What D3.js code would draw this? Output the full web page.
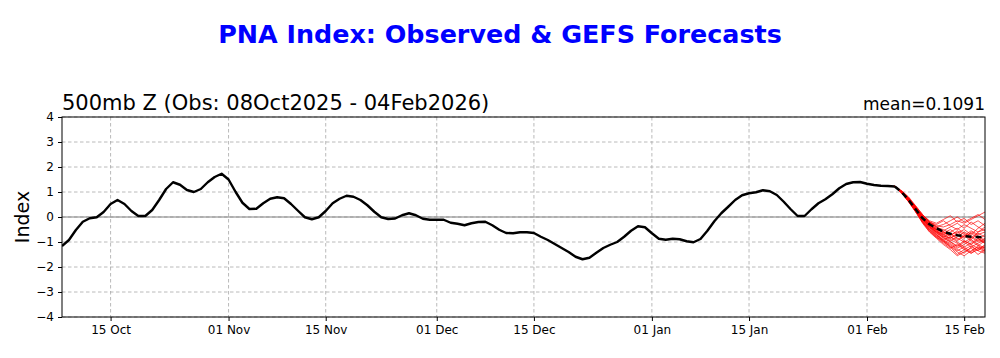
<!DOCTYPE html>
<html>
<head>
<meta charset="utf-8">
<script src="https://cdn.jsdelivr.net/npm/d3@7"></script>
<style>
  html, body { margin: 0; padding: 0; background: #fff; }
  svg { display: block; }
  text { font-family: "DejaVu Sans", sans-serif; }
</style>
</head>
<body>
<svg id="chart" width="1000" height="358"></svg>
<script>
// ---------------- DATA ----------------
const titleText = "PNA Index: Observed & GEFS Forecasts";
const subtitleLeft = "500mb Z (Obs: 08Oct2025 - 04Feb2026)";
const subtitleRight = "mean=0.1091";
const yLabel = "Index";

const obsStart = "2025-10-08";
const axisEnd = "2026-02-18";
const yTicks = [-4, -3, -2, -1, 0, 1, 2, 3, 4];
const xTickDates = ["2025-10-15","2025-11-01","2025-11-15","2025-12-01","2025-12-15",
                    "2026-01-01","2026-01-15","2026-02-01","2026-02-15"];

// observed daily values starting 08 Oct 2025
const obsValues = [
  -1.16,-0.92,-0.52,-0.19,-0.05,-0.01,0.20,0.52,0.68,0.52,
  0.24,0.04,0.04,0.28,0.68,1.12,1.39,1.29,1.08,1.00,
  1.12,1.39,1.60,1.73,1.50,1.01,0.57,0.32,0.33,0.55,
  0.73,0.79,0.75,0.52,0.25,-0.01,-0.09,-0.01,0.24,0.55,
  0.73,0.85,0.81,0.68,0.47,0.21,-0.01,-0.08,-0.06,0.07,
  0.15,0.07,-0.07,-0.11,-0.11,-0.11,-0.23,-0.27,-0.33,-0.25,
  -0.20,-0.19,-0.33,-0.51,-0.64,-0.65,-0.61,-0.61,-0.64,-0.79,
  -0.92,-1.08,-1.24,-1.40,-1.59,-1.69,-1.63,-1.43,-1.24,-1.11,
  -1.00,-0.79,-0.55,-0.37,-0.41,-0.65,-0.87,-0.91,-0.87,-0.89,
  -0.97,-1.01,-0.88,-0.55,-0.17,0.15,0.41,0.68,0.87,0.95,
  0.99,1.07,1.03,0.88,0.61,0.31,0.04,0.04,0.31,0.55,
  0.71,0.91,1.15,1.32,1.39,1.40,1.33,1.28,1.25,1.24,
  1.22
];

// forecast daily values starting 05 Feb 2026
const fcstStart = "2026-02-05";
const members = [
  [1.22,1.05,0.80,0.45,0.10,-0.20,-0.35,-0.40,-0.30,-0.15,-0.25,-0.10,0.05,0.20],
  [1.22,0.98,0.65,0.25,-0.15,-0.45,-0.70,-0.95,-1.10,-1.30,-1.45,-1.20,-1.35,-1.10],
  [1.22,1.02,0.72,0.38,0.00,-0.30,-0.50,-0.60,-0.75,-0.55,-0.70,-0.90,-0.65,-0.80],
  [1.22,0.95,0.60,0.20,-0.20,-0.55,-0.80,-1.00,-1.20,-1.50,-1.30,-1.45,-1.25,-1.40],
  [1.22,1.00,0.75,0.42,0.05,-0.20,-0.30,-0.15,-0.35,-0.50,-0.30,-0.45,-0.60,-0.40],
  [1.22,0.97,0.68,0.30,-0.10,-0.40,-0.60,-0.75,-0.85,-0.70,-0.95,-1.10,-0.90,-1.05],
  [1.22,1.04,0.78,0.40,0.02,-0.25,-0.45,-0.65,-0.50,-0.70,-0.85,-0.60,-0.75,-0.95],
  [1.22,0.96,0.62,0.22,-0.25,-0.60,-0.85,-1.10,-1.30,-1.55,-1.40,-1.25,-1.50,-1.30],
  [1.22,1.01,0.70,0.35,-0.05,-0.30,-0.55,-0.70,-0.60,-0.45,-0.65,-0.80,-1.00,-0.85],
  [1.22,0.99,0.66,0.28,-0.08,-0.38,-0.62,-0.85,-1.00,-1.15,-0.95,-1.10,-1.25,-1.15],
  [1.22,1.03,0.74,0.40,0.08,-0.15,-0.25,-0.10,0.05,-0.20,-0.05,-0.30,-0.15,-0.35],
  [1.22,0.98,0.64,0.26,-0.12,-0.42,-0.68,-0.90,-0.80,-1.00,-1.20,-1.05,-0.85,-1.00],
  [1.22,1.00,0.70,0.33,-0.02,-0.32,-0.55,-0.78,-0.95,-0.80,-0.60,-0.75,-0.95,-0.70],
  [1.22,0.97,0.63,0.24,-0.18,-0.50,-0.75,-0.95,-1.15,-1.35,-1.20,-1.40,-1.15,-1.30],
  [1.22,1.02,0.76,0.44,0.10,-0.18,-0.40,-0.55,-0.40,-0.25,-0.45,-0.20,-0.40,-0.55],
  [1.22,0.99,0.67,0.29,-0.06,-0.36,-0.58,-0.72,-0.90,-1.05,-1.25,-1.45,-1.30,-1.20],
  [1.22,1.01,0.71,0.36,0.00,-0.28,-0.48,-0.62,-0.78,-0.95,-0.75,-0.55,-0.70,-0.60],
  [1.22,0.96,0.61,0.21,-0.22,-0.58,-0.82,-1.05,-1.25,-1.10,-1.30,-1.15,-1.35,-1.45],
  [1.22,1.03,0.73,0.39,0.04,-0.22,-0.42,-0.50,-0.65,-0.85,-1.00,-0.85,-0.60,-0.50],
  [1.22,0.98,0.66,0.27,-0.10,-0.40,-0.65,-0.80,-0.65,-0.90,-0.75,-0.95,-1.15,-0.95],
  [1.22,1.00,0.69,0.32,-0.04,-0.34,-0.52,-0.68,-0.85,-0.65,-0.50,-0.70,-0.45,-0.25],
  [1.22,0.97,0.64,0.25,-0.15,-0.48,-0.72,-0.92,-1.05,-1.25,-1.10,-0.90,-1.10,-1.25],
  [1.22,1.02,0.74,0.37,0.03,-0.24,-0.38,-0.30,-0.15,0.00,-0.20,-0.05,0.10,-0.10],
  [1.22,0.99,0.68,0.30,-0.07,-0.37,-0.60,-0.82,-0.98,-1.20,-1.00,-1.20,-1.05,-0.90],
  [1.22,1.01,0.72,0.34,-0.03,-0.33,-0.50,-0.58,-0.72,-0.60,-0.80,-0.65,-0.85,-1.05],
  [1.22,0.96,0.62,0.23,-0.20,-0.52,-0.78,-0.98,-1.18,-1.40,-1.55,-1.35,-1.20,-1.35]
];
const meanValues = [1.22,0.99,0.68,0.31,-0.05,-0.29,-0.45,-0.59,-0.67,-0.73,-0.76,-0.79,-0.80,-0.81];

// ---------------- DRAW ----------------
const parse = d3.utcParse("%Y-%m-%d");
const addDays = (d, n) => new Date(d.getTime() + n * 86400000);
const obsStartDate = parse(obsStart);
const fcstStartDate = parse(fcstStart);

const margin = { left: 62, right: 15, top: 117, bottom: 41 };
const W = 1000, H = 358;
const x0 = margin.left, x1 = W - margin.right, y0 = margin.top, y1 = H - margin.bottom;

const x = d3.scaleUtc().domain([obsStartDate, parse(axisEnd)]).range([x0, x1]);
const y = d3.scaleLinear().domain([-4, 4]).range([y1, y0]);

const svg = d3.select("#chart");

svg.append("defs").append("clipPath").attr("id", "plotclip")
  .append("rect").attr("x", x0).attr("y", y0).attr("width", x1 - x0).attr("height", y1 - y0);

// gridlines
const grid = svg.append("g");
grid.selectAll("line.hg").data(yTicks).join("line")
  .attr("x1", x0).attr("x2", x1)
  .attr("y1", d => y(d)).attr("y2", d => y(d))
  .attr("stroke", "#a8a8a8").attr("stroke-width", 0.8).attr("stroke-dasharray", "3.5,2.5");
grid.selectAll("line.vg").data(xTickDates.map(parse)).join("line")
  .attr("x1", d => x(d)).attr("x2", d => x(d))
  .attr("y1", y0).attr("y2", y1)
  .attr("stroke", "#a8a8a8").attr("stroke-width", 0.8).attr("stroke-dasharray", "3.5,2.5");

// zero line
svg.append("line").attr("x1", x0).attr("x2", x1).attr("y1", y(0)).attr("y2", y(0))
  .attr("stroke", "#808080").attr("stroke-width", 1.2);

const plot = svg.append("g").attr("clip-path", "url(#plotclip)");
const line = d3.line().x(d => x(d.date)).y(d => y(d.v));

// ensemble members
members.forEach(m => {
  const pts = m.map((v, i) => ({ date: addDays(fcstStartDate, i), v }));
  plot.append("path").datum(pts).attr("d", line)
    .attr("fill", "none").attr("stroke", "#ff0000").attr("stroke-width", 0.8)
    .attr("stroke-opacity", 0.85);
});

// observed
const obsPts = obsValues.map((v, i) => ({ date: addDays(obsStartDate, i), v }));
plot.append("path").datum(obsPts).attr("d", line)
  .attr("fill", "none").attr("stroke", "#000").attr("stroke-width", 2.4)
  .attr("stroke-linejoin", "round");

// ensemble mean
const meanPts = meanValues.map((v, i) => ({ date: addDays(fcstStartDate, i), v }));
plot.append("path").datum(meanPts).attr("d", line)
  .attr("fill", "none").attr("stroke", "#000").attr("stroke-width", 2.5)
  .attr("stroke-dasharray", "6,4");

// frame
svg.append("rect").attr("x", x0).attr("y", y0).attr("width", x1 - x0).attr("height", y1 - y0)
  .attr("fill", "none").attr("stroke", "#000").attr("stroke-width", 1);

// axes
const yAxis = d3.axisLeft(y).tickValues(yTicks).tickSize(4).tickPadding(4)
  .tickFormat(d => d < 0 ? "\u2212" + Math.abs(d) : String(d));
const gy = svg.append("g").attr("transform", `translate(${x0},0)`).call(yAxis);
gy.select(".domain").remove();
gy.selectAll("text").attr("font-size", 12).attr("font-family", "DejaVu Sans").attr("fill", "#000");
gy.selectAll("line").attr("stroke", "#000");

const xAxis = d3.axisBottom(x).tickValues(xTickDates.map(parse)).tickSize(4).tickPadding(4)
  .tickFormat(d3.utcFormat("%d %b"));
const gx = svg.append("g").attr("transform", `translate(0,${y1})`).call(xAxis);
gx.select(".domain").remove();
gx.selectAll("text").attr("font-size", 12).attr("font-family", "DejaVu Sans").attr("fill", "#000");
gx.selectAll("line").attr("stroke", "#000");

// titles
svg.append("text").attr("x", 500).attr("y", 43).attr("text-anchor", "middle")
  .attr("font-size", 25.4).attr("font-weight", "bold").attr("fill", "#0000ff").text(titleText);
svg.append("text").attr("x", x0).attr("y", 110).attr("font-size", 21).attr("fill", "#000").text(subtitleLeft);
svg.append("text").attr("x", x1).attr("y", 110).attr("text-anchor", "end")
  .attr("font-size", 17).attr("fill", "#000").text(subtitleRight);
svg.append("text").attr("transform", `translate(29,${(y0 + y1) / 2}) rotate(-90)`)
  .attr("text-anchor", "middle").attr("font-size", 19).attr("fill", "#000").text(yLabel);
</script>
</body>
</html>
